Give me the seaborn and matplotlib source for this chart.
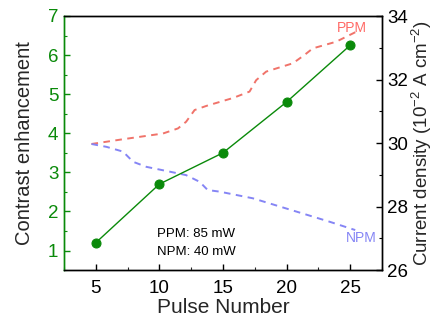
import matplotlib
matplotlib.use("Agg")
import matplotlib.pyplot as plt
import seaborn as sns
import pandas as pd
from matplotlib.ticker import MultipleLocator

# Data
pulses = [5, 10, 15, 20, 25]
contrast = [1.2, 2.7, 3.5, 4.8, 6.25]

ppm_x = [4.66, 7.14, 10.28, 11.46, 12.1, 12.77, 13.7, 15.8, 17.09, 17.61, 18.4, 20.49, 21.4, 22.06, 23.9, 25.46]
ppm_y = [29.97, 30.12, 30.30, 30.46, 30.67, 31.04, 31.17, 31.42, 31.62, 31.98, 32.25, 32.51, 32.77, 32.98, 33.19, 33.5]

npm_x = [4.66, 5.84, 7.14, 7.93, 8.98, 10.8, 12.1, 13.16, 13.8, 14.73, 17.35, 19.97, 21.28, 23.4, 25.4]
npm_y = [29.97, 29.88, 29.73, 29.41, 29.25, 29.1, 28.99, 28.78, 28.52, 28.47, 28.26, 27.94, 27.78, 27.52, 27.26]

sns.set_style("ticks")
plt.rcParams['font.family'] = ['Liberation Sans', 'DejaVu Sans']
plt.rcParams['mathtext.fontset'] = 'custom'
plt.rcParams['mathtext.rm'] = 'Liberation Sans'
plt.rcParams['mathtext.it'] = 'Liberation Sans'

green = '#0a8a0a'
red = '#f0736a'
blue = '#8585f5'

fig = plt.figure(figsize=(4.37, 3.2), dpi=100)
ax = fig.add_axes([0.1465, 0.156, 0.874 - 0.1465, 0.95 - 0.156])
ax2 = ax.twinx()

df_c = pd.DataFrame({'x': pulses, 'y': contrast})
df_p = pd.DataFrame({'x': ppm_x, 'y': ppm_y})
df_n = pd.DataFrame({'x': npm_x, 'y': npm_y})

sns.lineplot(data=df_p, x='x', y='y', ax=ax2, color=red, lw=1.4,
             linestyle=(0, (3.4, 2.8)), sort=False, zorder=1)
sns.lineplot(data=df_n, x='x', y='y', ax=ax2, color=blue, lw=1.4,
             linestyle=(0, (3.4, 2.8)), sort=False, zorder=1)

ax.set_zorder(ax2.get_zorder() + 1)
ax.patch.set_visible(False)
sns.lineplot(data=df_c, x='x', y='y', ax=ax, color=green, lw=1.0,
             marker='o', markersize=6.5, markeredgecolor=green, markerfacecolor=green)

ax.set_xlim(2.5, 27.5)
ax.set_ylim(0.5, 7)
ax2.set_ylim(26, 34)

ax.xaxis.set_major_locator(MultipleLocator(5))
ax.xaxis.set_minor_locator(MultipleLocator(2.5))
ax.yaxis.set_major_locator(MultipleLocator(1))
ax.yaxis.set_minor_locator(MultipleLocator(0.5))
ax2.yaxis.set_major_locator(MultipleLocator(2))
ax2.yaxis.set_minor_locator(MultipleLocator(1))

ax.tick_params(axis='x', which='major', direction='in', length=4, width=1, labelsize=13.5, colors='black', top=False, pad=7)
ax.tick_params(axis='x', which='minor', direction='in', length=2.5, width=0.8, top=False)
ax.tick_params(axis='y', which='major', direction='in', length=4, width=1, labelsize=13.5, colors=green, labelcolor=green, pad=4)
ax.tick_params(axis='y', which='minor', direction='in', length=2.5, width=0.8, colors=green)
ax2.tick_params(axis='y', which='major', direction='in', length=4, width=1, labelsize=13.5, colors='black', pad=4)
ax2.tick_params(axis='y', which='minor', direction='in', length=2.5, width=0.8, colors='black')

for a in (ax, ax2):
    for s in a.spines.values():
        s.set_linewidth(1.0)
        s.set_color('black')
ax.spines['left'].set_color(green)
ax2.spines['left'].set_color(green)

ax.set_xlabel('Pulse Number', fontsize=15, labelpad=1)
ax.set_ylabel('Contrast enhancement', fontsize=14.5, labelpad=10)
ax2.set_ylabel('Current density (10$^{-2}$ A cm$^{-2}$)', fontsize=13.5, labelpad=1)

ax.text(9.8, 1.42, 'PPM: 85 mW', fontsize=9.5, color='black', va='center')
ax.text(9.8, 0.96, 'NPM: 40 mW', fontsize=9.5, color='black', va='center')
ax2.text(25.1, 33.62, 'PPM', fontsize=10, color='#ff6a66', va='center', ha='center')
ax2.text(25.85, 27.02, 'NPM', fontsize=10, color=blue, va='center', ha='center')

fig.savefig('out.png', dpi=100)
